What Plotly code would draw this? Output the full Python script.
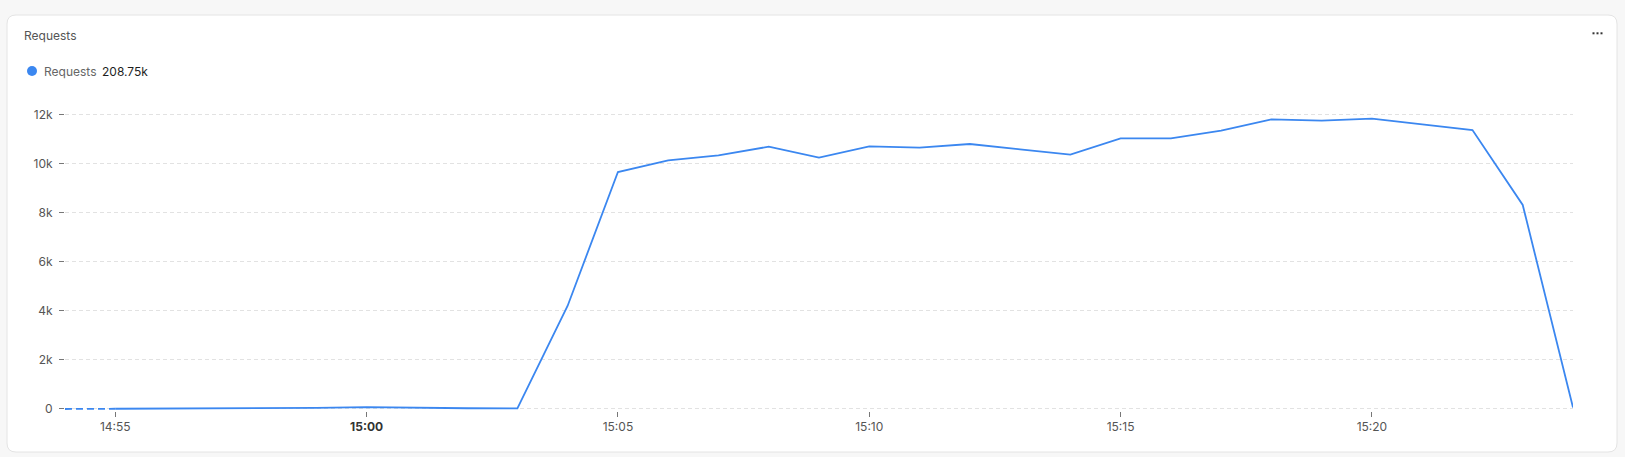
import plotly.graph_objects as go

# ---- data ----
times = ["14:54", "14:55", "14:56", "14:57", "14:58", "14:59", "15:00", "15:01",
         "15:02", "15:03", "15:04", "15:05", "15:06", "15:07", "15:08", "15:09",
         "15:10", "15:11", "15:12", "15:13", "15:14", "15:15", "15:16", "15:17",
         "15:18", "15:19", "15:20", "15:21", "15:22", "15:23", "15:24"]
requests = [0, 10, 15, 20, 30, 45, 80, 40, 30, 25, 4216, 9673, 10150, 10354,
            10707, 10259, 10721, 10667, 10816, 10600, 10381, 11048, 11048, 11361,
            11823, 11769, 11850, 11620, 11388, 8327, 60]
x_tick_times = ["14:55", "15:00", "15:05", "15:10", "15:15", "15:20"]
x_tick_labels = ["14:55", "<b><span style='color:#333'>15:00</span></b>", "15:05",
                 "15:10", "15:15", "15:20"]
y_tick_vals = [0, 2000, 4000, 6000, 8000, 10000, 12000]
y_tick_labels = ["0", "2k", "4k", "6k", "8k", "10k", "12k"]
series_name = "Requests"
series_total = "208.75k"

DAY = "2024-01-01 "
xs = [DAY + t + ":00" for t in times]

# ---- layout geometry ----
W, H = 1625, 457
L, R, T, B = 65, 52, 100, 46
PW, PH = W - L - R, H - T - B

def px(x):
    return (x - L) / PW

def py(y):
    return (H - B - y) / PH

BLUE = "#3b87f0"

fig = go.Figure()
# dashed first segment (incomplete bucket)
fig.add_trace(go.Scatter(x=xs[:2], y=requests[:2], mode="lines",
                         line=dict(color=BLUE, width=1.8, dash="7px,4px"),
                         hoverinfo="skip", showlegend=False))
fig.add_trace(go.Scatter(x=xs[1:], y=requests[1:], mode="lines",
                         line=dict(color=BLUE, width=1.8), name=series_name,
                         showlegend=False))

# card with rounded corners
cx0, cx1, cy0, cy1, rad = 7, 1617, 15, 452, 9
path = (f"M {px(cx0+rad)},{py(cy0)} L {px(cx1-rad)},{py(cy0)} "
        f"Q {px(cx1)},{py(cy0)} {px(cx1)},{py(cy0+rad)} "
        f"L {px(cx1)},{py(cy1-rad)} Q {px(cx1)},{py(cy1)} {px(cx1-rad)},{py(cy1)} "
        f"L {px(cx0+rad)},{py(cy1)} Q {px(cx0)},{py(cy1)} {px(cx0)},{py(cy1-rad)} "
        f"L {px(cx0)},{py(cy0+rad)} Q {px(cx0)},{py(cy0)} {px(cx0+rad)},{py(cy0)} Z")
shapes = [dict(type="path", path=path, xref="paper", yref="paper",
               fillcolor="white", line=dict(color="#e4e4e4", width=1), layer="below")]
# legend dot
shapes.append(dict(type="circle", xref="paper", yref="paper",
                   x0=px(27), x1=px(37), y0=py(66), y1=py(76),
                   fillcolor=BLUE, line=dict(width=0)))
# menu dots
for cxd in (1593.5, 1597.5, 1601.5):
    shapes.append(dict(type="rect", xref="paper", yref="paper",
                       x0=px(cxd - 1), x1=px(cxd + 1), y0=py(32.3), y1=py(34.3),
                       fillcolor="#333", line=dict(width=0)))

annotations = [
    dict(text="Requests", x=px(22), y=py(35), xref="paper", yref="paper",
         xanchor="left", yanchor="middle", showarrow=False,
         font=dict(size=12, color="#555")),
    dict(text=series_name, x=px(42), y=py(71), xref="paper", yref="paper",
         xanchor="left", yanchor="middle", showarrow=False,
         font=dict(size=12, color="#666")),
    dict(text=series_total, x=px(100), y=py(71), xref="paper", yref="paper",
         xanchor="left", yanchor="middle", showarrow=False,
         font=dict(size=12, color="#1e1e1e")),
]

fig.update_layout(
    width=W, height=H, margin=dict(l=L, r=R, t=T, b=B, pad=0),
    paper_bgcolor="#f7f7f7", plot_bgcolor="rgba(0,0,0,0)",
    font=dict(family="Inter", size=12, color="#555"),
    showlegend=False, shapes=shapes, annotations=annotations,
    xaxis=dict(type="date", range=[xs[0], xs[-1]],
               tickvals=[DAY + t + ":00" for t in x_tick_times], ticktext=x_tick_labels,
               ticks="outside", ticklen=5, tickcolor="#777", tickwidth=1,
               showgrid=False, zeroline=False, showline=False,
               tickfont=dict(size=12, color="#555")),
    yaxis=dict(range=[-82, 12612], tickvals=y_tick_vals, ticktext=y_tick_labels,
               ticks="outside", ticklen=5, tickcolor="#777", tickwidth=1,
               showgrid=True, gridcolor="#e2e2e2", griddash="4px,3px", gridwidth=1,
               zeroline=False, showline=False, ticklabelstandoff=4,
               tickfont=dict(size=12, color="#555")),
)

fig.write_html("out.html", config={"displayModeBar": False},
               post_script="document.body.style.margin='0';document.body.style.overflow='hidden';")
